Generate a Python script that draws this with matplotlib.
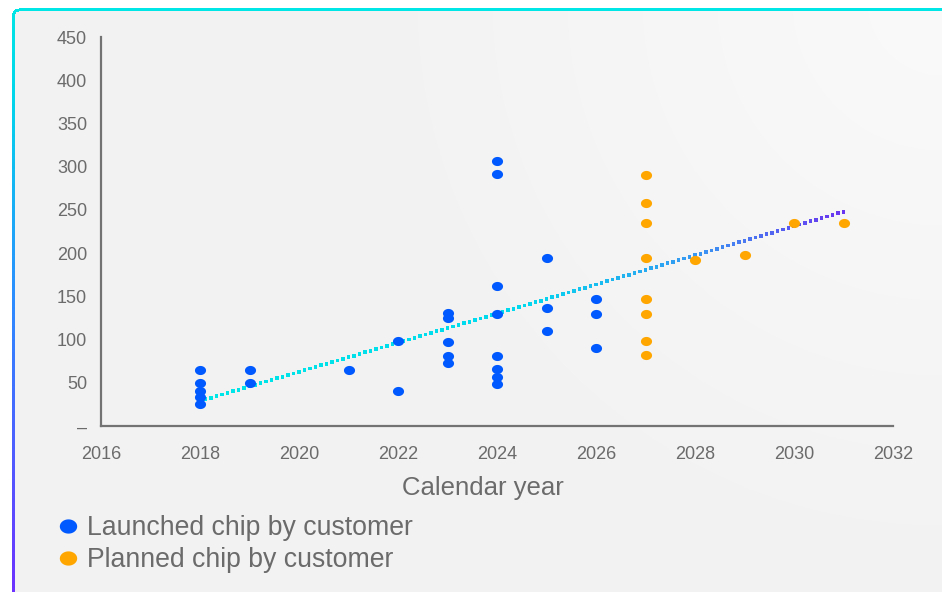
import numpy as np
import matplotlib
matplotlib.use("Agg")
import matplotlib.pyplot as plt
from matplotlib.path import Path
from matplotlib.lines import Line2D
from matplotlib.colors import LinearSegmentedColormap

# ---------------- data ----------------
launched_years = [2018, 2018, 2018, 2018, 2018,
                  2019, 2019,
                  2021,
                  2022, 2022,
                  2023, 2023, 2023, 2023, 2023,
                  2024, 2024, 2024, 2024, 2024, 2024, 2024, 2024,
                  2025, 2025, 2025,
                  2026, 2026, 2026]
launched_values = [65, 50, 41, 33, 25,
                   65, 50,
                   65,
                   98, 41,
                   131, 125, 97, 81, 73,
                   307, 291, 162, 130, 81, 66, 57, 49,
                   194, 137, 110,
                   147, 130, 90]

planned_years = [2027, 2027, 2027, 2027, 2027, 2027, 2027, 2027,
                 2028, 2029, 2030, 2031]
planned_values = [290, 258, 235, 194, 147, 130, 98, 82,
                  192, 198, 235, 235]

trend_years = [2018, 2031]
trend_values = [29, 248]

x_ticks = [2016, 2018, 2020, 2022, 2024, 2026, 2028, 2030, 2032]
y_ticks = [0, 50, 100, 150, 200, 250, 300, 350, 400, 450]
y_tick_labels = ["–", "50", "100", "150", "200", "250", "300", "350", "400", "450"]

series_labels = ["Launched chip by customer", "Planned chip by customer"]
x_title = "Calendar year"

# ---------------- style ----------------
W, H, DPI = 942, 592, 100
BLUE = "#0059FF"
ORANGE = "#FFA600"
TXT = "#6b6b6b"
AXC = "#737373"
FONT = ["Liberation Sans", "DejaVu Sans"]
plt.rcParams["font.family"] = FONT

fig = plt.figure(figsize=(W / DPI, H / DPI), dpi=DPI, facecolor="white")

# ---- card background (gradient border, light fill) ----
yy, xx = np.mgrid[0:H, 0:W].astype(float)
img = np.ones((H, W, 3))
x0, y0, r, bw = 11.5, 8.0, 7.0, 3.0
cx, cy = x0 + r, y0 + r
in_corner = (xx < cx) & (yy < cy)
d = np.hypot(xx - cx, yy - cy)
outer = (xx >= x0) & (yy >= y0) & (~in_corner | (d <= r))
inner = (xx >= x0 + bw) & (yy >= y0 + bw) & (~in_corner | (d <= r - bw))
dist = np.hypot(xx - W, yy - 0) / 600.0
light = (250 - 8 * np.clip(dist, 0, 1)) / 255.0
fill = np.dstack([light, light, light])
t = np.clip((yy - y0) / (H - y0), 0, 1)
stops_t = [0.0, 0.15, 0.5, 1.0]
stops_c = np.array([[0, 229, 229], [0, 215, 235], [45, 140, 255], [110, 50, 255]]) / 255.0
bord = np.dstack([np.interp(t, stops_t, stops_c[:, k]) for k in range(3)])
top_band = (yy < y0 + bw + 0.5) & (xx > cx)
bord[top_band] = stops_c[0]
img[outer] = bord[outer]
img[inner] = fill[inner]

bg = fig.add_axes([0, 0, 1, 1], zorder=0)
bg.imshow(img, extent=[0, W, H, 0], interpolation="bilinear", aspect="auto")
bg.set_axis_off()

# ---- main axes ----
ax = fig.add_axes([101 / W, 1 - 426 / H, 792 / W, 389 / H], zorder=1)
ax.patch.set_alpha(0)
ax.set_xlim(2016, 2032)
ax.set_ylim(0, 450)
for s in ["top", "right"]:
    ax.spines[s].set_visible(False)
for s in ["left", "bottom"]:
    ax.spines[s].set_color(AXC)
    ax.spines[s].set_linewidth(1.6)

ax.set_xticks(x_ticks)
ax.set_xticklabels([str(v) for v in x_ticks])
ax.set_yticks(y_ticks)
ax.set_yticklabels(y_tick_labels)
ax.tick_params(axis="both", length=0, labelsize=13, labelcolor=TXT)
ax.tick_params(axis="x", pad=14.5)
ax.tick_params(axis="y", pad=10)

ax.set_xlabel(x_title, fontsize=18.5, color=TXT)
ax.xaxis.set_label_coords((483 - 101) / 792, -(488 - 426) / 389)
ax.xaxis.label.set_va("center")

# ellipse marker (slightly wider than tall)
th = np.linspace(0, 2 * np.pi, 60)
ell = Path(np.column_stack([np.cos(th), 0.82 * np.sin(th)]), closed=True)

# trend line: dotted with a cyan->purple gradient
cmap = LinearSegmentedColormap.from_list(
    "trend", [(0.0, "#00E6E6"), (0.5, "#00D9EE"), (0.78, "#3A95F2"), (1.0, "#6A35F0")])
n_dots = 118
tt = np.linspace(0, 1, n_dots)
tx = trend_years[0] + tt * (trend_years[1] - trend_years[0])
ty = trend_values[0] + tt * (trend_values[1] - trend_values[0])
ax.scatter(tx, ty, s=7.5, marker="s", c=cmap(tt), linewidths=0, zorder=3)

ax.scatter(launched_years, launched_values, s=64, marker=ell, color=BLUE,
           linewidths=0, zorder=4)
ax.scatter(planned_years, planned_values, s=64, marker=ell, color=ORANGE,
           linewidths=0, zorder=4)

handles = [Line2D([], [], linestyle="none", marker=ell, markersize=12.5,
                  markerfacecolor=BLUE, markeredgewidth=0),
           Line2D([], [], linestyle="none", marker=ell, markersize=12.5,
                  markerfacecolor=ORANGE, markeredgewidth=0)]
leg = fig.legend(handles, series_labels, loc="upper left",
                 bbox_to_anchor=(56 / W, 1 - 515 / H), frameon=False,
                 fontsize=19.2, labelcolor=TXT, handlelength=0.9,
                 handletextpad=0.25, labelspacing=0.22, borderpad=0,
                 borderaxespad=0)

fig.savefig("out.png", dpi=DPI, facecolor="white")
